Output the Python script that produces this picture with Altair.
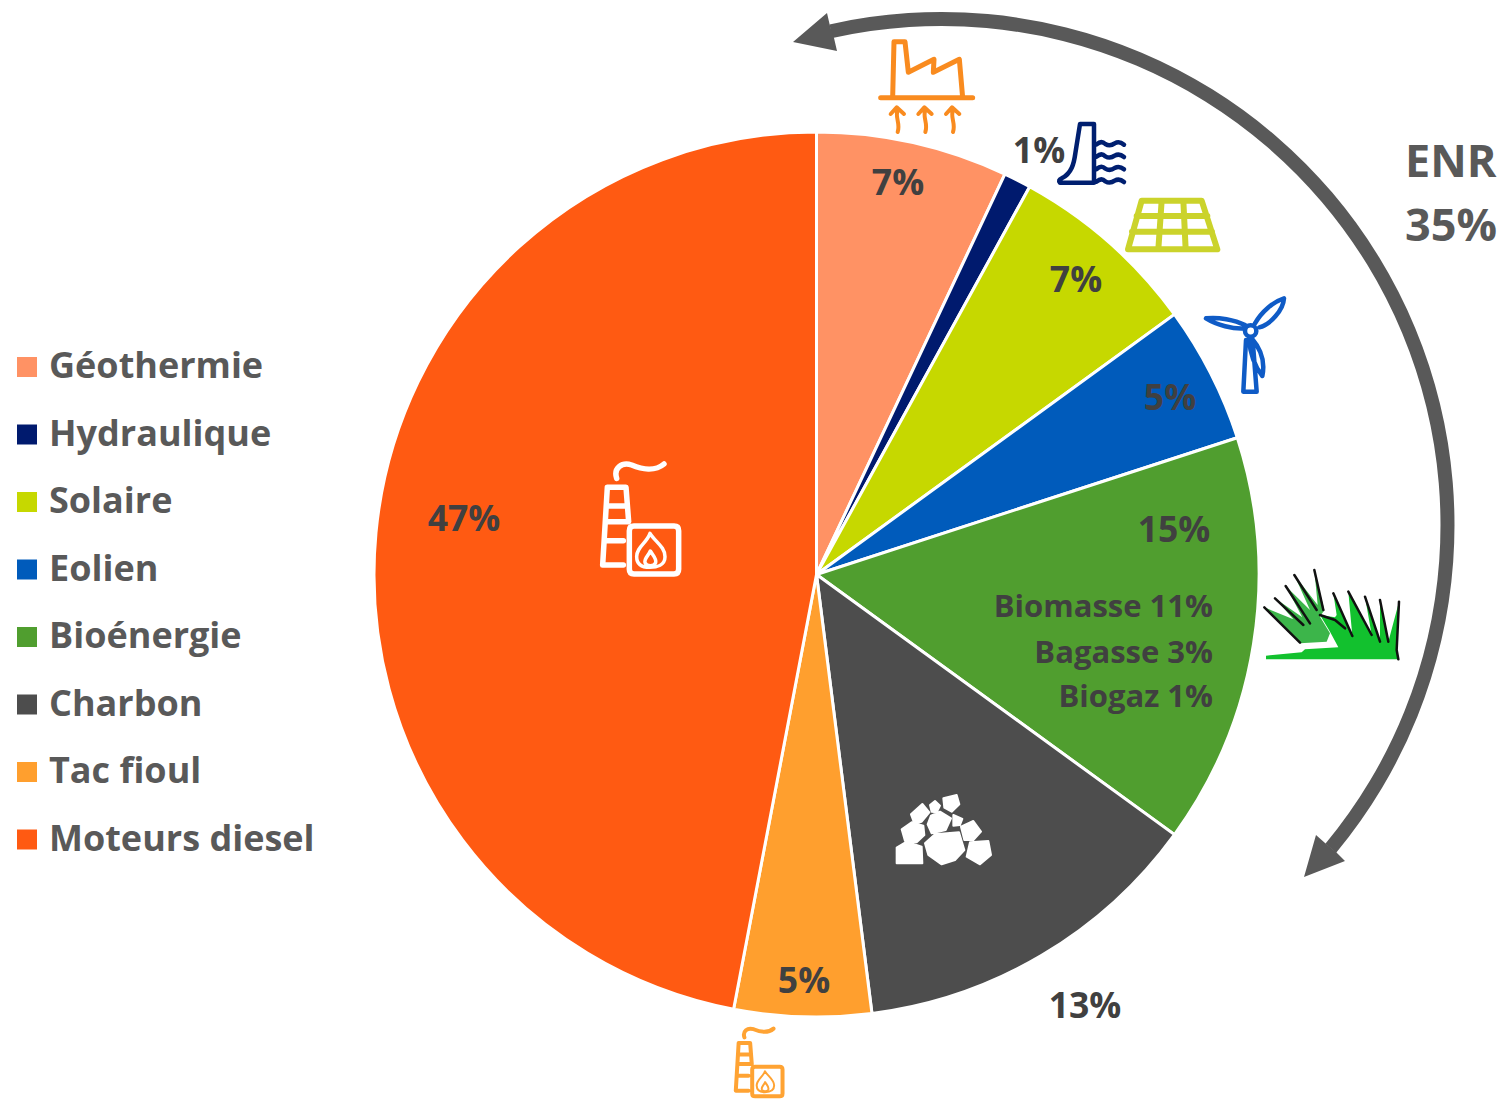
import altair as alt
import pandas as pd

# ---- pie data
sources = ["Géothermie", "Hydraulique", "Solaire", "Eolien", "Bioénergie", "Charbon", "Tac fioul", "Moteurs diesel"]
shares = [7, 1, 7, 5, 15, 13, 5, 47]
colors = ["#FF9264", "#001A6E", "#C6D800", "#005BBB", "#509E2F", "#4D4D4D", "#FF9F2E", "#FF5A12"]

# ---- labels
big_labels = ["7%", "1%", "7%", "5%", "15%", "13%", "5%", "47%"]
big_x = [898, 1039, 1076, 1170, 1174, 1085, 804, 464]
big_y = [184, 152, 281, 399, 531, 1007, 982, 520]
bio_labels = ["Biomasse 11%", "Bagasse 3%", "Biogaz 1%"]
bio_x = [1213, 1213, 1213]
bio_y = [608, 654, 698]
enr_labels = ["ENR", "35%"]
enr_x = [1405, 1405]
enr_y = [163, 227]

W, H = 1490, 1094
sx = alt.Scale(domain=[8, 1498], nice=False, zero=False)
sy = alt.Scale(domain=[1102, 8], nice=False, zero=False)
X = lambda f="x": alt.X(f"{f}:Q", scale=sx, axis=None)
Y = lambda f="y": alt.Y(f"{f}:Q", scale=sy, axis=None)
FONT = "Open Sans"
GREY = "#595959"
TXT = "#404040"

pie_df = pd.DataFrame({"source": sources, "share": shares, "idx": range(len(sources))})
pie = alt.Chart(pie_df).mark_arc(outerRadius=442.5, stroke="white", strokeWidth=3).encode(
    x=alt.value(808.5),
    y=alt.value(566.5),
    theta=alt.Theta("share:Q", stack=True, scale=alt.Scale(domain=[0, 100])),
    order=alt.Order("idx:Q"),
    color=alt.Color(
        "source:N",
        sort=None,
        scale=alt.Scale(domain=sources, range=colors),
        legend=alt.Legend(
            title=None, orient="none", legendX=1, legendY=341, padding=0,
            symbolType="square", symbolSize=400, symbolStrokeWidth=0,
            labelFont=FONT, labelFontSize=36, labelFontWeight=700, labelColor=GREY,
            labelOffset=4, rowPadding=31.5, labelLimit=400,
        ),
    ),
)

def texts(labels, xs, ys, size, color, align="center"):
    df = pd.DataFrame({"t": labels, "x": xs, "y": ys})
    return alt.Chart(df).mark_text(
        font=FONT, fontSize=size, fontWeight=700, color=color, align=align, baseline="middle"
    ).encode(x=X(), y=Y(), text="t:N")

arrow_arc = alt.Chart(pd.DataFrame({"x": [941.5], "y": [525]})).mark_arc(
    theta=6.063, theta2=8.547, innerRadius=499, outerRadius=513, color=GREY
).encode(x=X(), y=Y())

def icon(ox, oy, scale, path, stroke=None, fill=None, sw=0):
    kw = dict(shape=path, size=(2 * scale) ** 2, opacity=1, strokeWidth=sw, strokeCap="round", strokeJoin="round")
    kw["fill"] = fill if fill else "transparent"
    kw["stroke"] = stroke if stroke else "transparent"
    return alt.Chart(pd.DataFrame({"x": [ox], "y": [oy]})).mark_point(**kw).encode(x=X(), y=Y())

def poly(pts):
    return "M" + " L".join(f"{a},{b}" for a, b in pts) + " Z"

def circle(cx, cy, r):
    k = 0.5523 * r
    return (f"M{cx-r},{cy} C{cx-r},{cy-k} {cx-k},{cy-r} {cx},{cy-r} C{cx+k},{cy-r} {cx+r},{cy-k} {cx+r},{cy} "
            f"C{cx+r},{cy+k} {cx+k},{cy+r} {cx},{cy+r} C{cx-k},{cy+r} {cx-r},{cy+k} {cx-r},{cy} Z")

S = 1 / 3
ORANGE = "#F98B1F"
NAVY = "#001F70"
SOLAR = "#CBD32B"
BLUE = "#0F5BC6"

head1 = icon(0, 0, 1, "M793,42 L827,13 L830,26 L834,38 L837,51 Z", fill=GREY)
head2 = icon(0, 0, 1, "M1304,877 L1316,835 L1325,843 L1336,852 L1345,861 Z", fill=GREY)

factory = ("M32,203 L308,203 M68,203 L72,35 L105,35 L115,127 L192,88 L190,127 L268,88 L278,203")
heat = ("M62,252 L80,232 L102,252 M83,240 C74,262 92,280 83,306"
        " M145,252 L163,232 L185,252 M166,240 C157,262 175,280 166,306"
        " M228,252 L246,232 L268,252 M249,240 C240,262 258,280 249,306")
dam = ("M630,282 L672,282 L672,458 L570,458 Q563,450 575,445 C605,430 612,400 616,370 Z "
       "M680,343 Q694,330 706,342 Q720,350 734,340 Q748,332 762,344 "
       "M680,380 Q694,367 706,379 Q720,387 734,377 Q748,369 762,381 "
       "M680,417 Q694,404 706,416 Q720,424 734,414 Q748,406 762,418 "
       "M680,455 Q694,442 706,454 Q720,462 734,452 Q748,444 762,456")
solar = ("M65,32 L245,32 L292,178 L24,178 Z M50,78 L262,78 M36,125 L276,125 "
         "M125,32 L115,178 M190,32 L197,178")
wind = ("M378,450 L370,605 L410,605 L398,450 "
        "M405,400 C425,365 460,335 492,325 C490,360 450,405 418,412 "
        "M375,415 C340,418 290,405 258,385 C295,380 345,390 375,405 "
        "M395,445 C425,480 435,520 427,558 C405,530 390,490 387,445 "
        + circle(392, 423, 17))
grass_left = ("M135,250 L28,142 L115,178 L60,115 L142,172 L92,78 L165,150 "
              "L118,45 L188,135 L178,30 L208,150 L195,170 L225,220 L215,245 Z")
grass_right = ("M33,287 L140,277 L150,268 L250,262 L225,215 L195,165 L240,172 L245,165 L235,100 L292,228 L280,95 "
               "L350,225 L330,110 L375,245 L375,120 L400,245 L432,125 L425,270 L430,298 L33,298 Z")
grass_ink = ("M135,248 L28,142 M60,115 L145,195 M92,78 L165,190 M118,45 L185,150 M178,30 L205,150 "
             "M195,165 L240,180 L270,205 M235,100 L292,228 M280,95 L350,225 M330,110 L375,245 "
             "M375,120 L400,245 M432,125 L425,270 L430,298")
stack = ("M80,85 C70,55 95,35 125,45 C155,58 195,65 222,42 "
         "M52,112 L108,112 L116,215 M52,112 L38,345 L100,345 "
         "M55,168 L105,168 M52,215 L112,215 M46,272 L100,272 "
         "M132,228 L252,228 Q266,228 266,242 L266,358 Q266,372 252,372 L132,372 Q118,372 118,358 L118,242 Q118,228 132,228 Z")
flame = ("M180,250 C195,275 225,290 225,320 C225,345 200,352 180,352 C160,352 140,345 140,320 C140,290 170,280 180,250 Z "
         "M181,303 C190,318 200,325 197,338 C192,350 170,350 165,338 C162,325 175,318 181,303 Z")
coal_polys = [
    [(175,40),(215,30),(223,58),(200,80),(178,68)],
    [(135,60),(150,48),(165,62),(155,82),(140,80)],
    [(78,88),(112,57),(133,82),(110,110),(88,115)],
    [(138,92),(165,80),(198,100),(182,135),(140,145),(128,118)],
    [(205,90),(232,102),(225,120),(205,122)],
    [(50,133),(80,112),(115,122),(118,150),(95,172),(60,168)],
    [(35,188),(65,170),(110,185),(112,235),(35,235)],
    [(150,148),(222,142),(238,195),(210,225),(170,238),(130,210),(120,175)],
    [(228,125),(265,108),(288,140),(265,165),(238,165)],
    [(255,172),(310,168),(318,210),(285,238),(245,215)],
]
coal = " ".join(poly(p) for p in coal_polys)

layers = [
    pie,
    arrow_arc, head1, head2,
    texts(big_labels, big_x, big_y, 35.5, TXT),
    texts(bio_labels, bio_x, bio_y, 31, TXT, "right"),
    texts(enr_labels, enr_x, enr_y, 45, GREY, "left"),
    icon(870, 30, S, factory, stroke=ORANGE, sw=5),
    icon(870, 30, S, heat, stroke=ORANGE, sw=4),
    icon(870, 30, S, dam, stroke=NAVY, sw=4.5),
    icon(1120, 190, S, solar, stroke=SOLAR, sw=6),
    icon(1120, 190, S, wind, stroke=BLUE, sw=4.5),
    icon(1255, 560, S, grass_left, fill="#3CB54A"),
    icon(1255, 560, S, grass_right, fill="#12C12E"),
    icon(1255, 560, S, grass_ink, stroke="#111111", sw=2.5),
    icon(590, 450, S, stack, stroke="white", sw=5.5),
    icon(590, 450, S, flame, stroke="white", sw=3.5),
    icon(885, 785, S, coal, fill="white", stroke="white", sw=2),
    icon(728, 1020, 0.205, stack, stroke="#FFA333", sw=4),
    icon(728, 1020, 0.205, flame, stroke="#FFA333", sw=2),
]

chart = alt.layer(*layers).properties(
    width=W, height=H, padding=0, autosize=alt.AutoSizeParams(type="none"),
    background="white",
).configure_view(stroke=None)

chart.save("out.html", embed_options={"renderer": "svg", "actions": False})
